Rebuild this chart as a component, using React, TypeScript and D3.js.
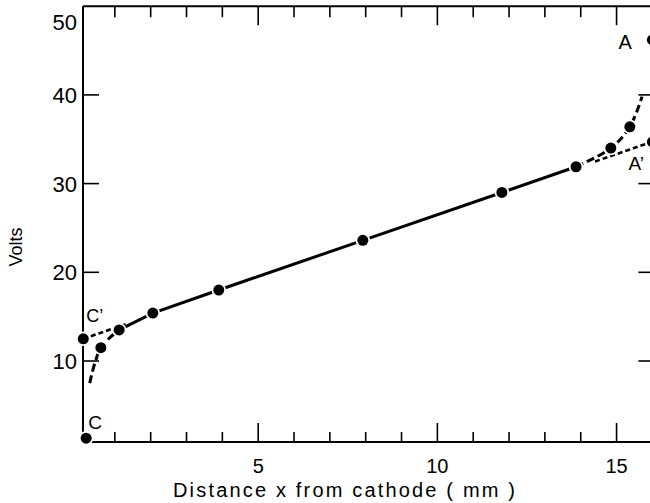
import React from "react";
import * as d3 from "d3";

// Measured potential along the discharge (distance in mm, potential in volts)
const distance = [0.2, 0.61, 1.12, 2.06, 3.9, 7.92, 11.8, 13.87, 14.84, 15.37];
const volts = [1.3, 11.5, 13.5, 15.4, 18.0, 23.6, 29.0, 31.9, 34.0, 36.4];

// Extrapolated end points C' and A', and the anode point A
const extraX = [0.12, 16.0, 16.0];
const extraV = [12.5, 34.7, 46.2];

// Solid run through the linear region
const solidX = [1.12, 2.06, 3.9, 7.92, 11.8, 13.87];
const solidV = [13.5, 15.4, 18.0, 23.6, 29.0, 31.9];

// Dashed curves bending away near the electrodes
const cathodeCurveX = [0.3, 0.61, 1.12];
const cathodeCurveV = [7.5, 11.5, 13.5];
const anodeCurveX = [13.87, 14.84, 15.37, 15.71];
const anodeCurveV = [31.9, 34.0, 36.4, 39.8];

// Straight extrapolation C'–A'
const fitIntercept = 12.33;
const fitSlope = 1.4;
const fitLeft = [0.12, 1.3];
const fitRight = [14.4, 16.0];

const xMajor = [5, 10, 15];
const xMinor = [1, 2, 3, 4, 6, 7, 8, 9, 11, 12, 13, 14];
const yMajor = [10, 20, 30, 40];
const yLabels = [10, 20, 30, 40, 50];

const pointLabels = [
  { text: "C", x: 0.2, v: 1.3, dx: 2, dy: -9, size: 19 },
  { text: "C\u2019", x: 0.12, v: 12.5, dx: 3, dy: -17, size: 18 },
  { text: "A", x: 16.0, v: 46.2, dx: -34, dy: 9, size: 20 },
  { text: "A\u2019", x: 16.0, v: 34.7, dx: -24, dy: 28, size: 19 },
];

const W = 650;
const H = 503;
const FONT = "'Liberation Sans', Arial, sans-serif";

export default function App() {
  const x = d3.scaleLinear().domain([0, 16]).range([79, 652.4]);
  const y = d3.scaleLinear().domain([0, 50]).range([449.7, 6.2]);

  const left = 83;
  const right = x(16);
  const top = y(50);
  const bottom = 442;

  const line = d3
    .line<[number, number]>()
    .x((d) => x(d[0]))
    .y((d) => y(d[1]));
  const curve = d3
    .line<[number, number]>()
    .x((d) => x(d[0]))
    .y((d) => y(d[1]))
    .curve(d3.curveCatmullRom.alpha(0.5));

  const zip = (a: number[], b: number[]) => a.map((v, i) => [v, b[i]] as [number, number]);
  const fitSeg = (r: number[]) => r.map((d) => [d, fitIntercept + fitSlope * d] as [number, number]);

  const dots = [...zip(distance, volts), ...zip(extraX, extraV)];

  return (
    <svg
      width={W}
      height={H}
      style={{ position: "absolute", left: 0, top: 0, background: "#fff" }}
      fontFamily={FONT}
    >
      <rect width={W} height={H} fill="#fff" />

      {/* frame */}
      <g stroke="#000" strokeWidth={2} fill="none">
        <line x1={left} x2={left} y1={top} y2={bottom} />
        <line x1={left} x2={right} y1={bottom} y2={bottom} />
        <line x1={left} x2={right} y1={top} y2={top} />
        <line x1={right} x2={right} y1={top} y2={bottom} />
      </g>

      {/* x ticks, bottom and top; y ticks, left and right */}
      <g stroke="#000" strokeWidth={1.6}>
        {xMajor.map((t) => (
          <g key={"M" + t}>
            <line x1={x(t)} x2={x(t)} y1={bottom} y2={bottom - 19} />
            <line x1={x(t)} x2={x(t)} y1={top} y2={top + 19} />
          </g>
        ))}
        {xMinor.map((t) => (
          <g key={"m" + t}>
            <line x1={x(t)} x2={x(t)} y1={bottom} y2={bottom - 10} />
            <line x1={x(t)} x2={x(t)} y1={top} y2={top + 11} />
          </g>
        ))}
        {yMajor.map((t) => (
          <g key={"y" + t}>
            <line x1={left} x2={left + 16} y1={y(t)} y2={y(t)} />
            <line x1={right} x2={right - 14} y1={y(t)} y2={y(t)} />
          </g>
        ))}
      </g>

      {/* tick labels */}
      <g fontSize={20} textAnchor="middle" fill="#000">
        {xMajor.map((t) => (
          <text key={t} x={x(t)} y={473}>
            {t}
          </text>
        ))}
      </g>
      <g fontSize={22} textAnchor="end" fill="#000">
        {yLabels.map((t) => (
          <text key={t} x={77} y={Math.max(y(t), 22)} dy="0.36em">
            {t}
          </text>
        ))}
      </g>

      {/* axis titles */}
      <text
        x={173}
        y={497}
        fontSize={20}
        textLength={342}
        lengthAdjust="spacing"
        fill="#000"
      >
        Distance x from cathode ( mm )
      </text>
      <text
        transform="translate(22,247) rotate(-90)"
        fontSize={18}
        textAnchor="middle"
        fill="#000"
      >
        Volts
      </text>

      {/* linear extrapolation C'–A' */}
      <g stroke="#000" strokeWidth={2.6} fill="none" strokeDasharray="5 3">
        <path d={line(fitSeg(fitLeft)) || ""} />
        <path d={line(fitSeg(fitRight)) || ""} />
      </g>

      {/* curved parts near the electrodes */}
      <g stroke="#000" strokeWidth={3} fill="none" strokeDasharray="8 4">
        <path d={curve(zip(cathodeCurveX, cathodeCurveV)) || ""} />
        <path d={curve(zip(anodeCurveX, anodeCurveV)) || ""} />
      </g>

      {/* linear region */}
      <path d={line(zip(solidX, solidV)) || ""} stroke="#000" strokeWidth={3} fill="none" />

      {/* measured points */}
      <g fill="#000" stroke="#fff" strokeWidth={3.5}>
        {dots.map((d, i) => (
          <circle key={i} cx={x(d[0])} cy={y(d[1])} r={5.5} paintOrder="stroke" />
        ))}
      </g>

      {/* point labels */}
      <g fill="#000">
        {pointLabels.map((p) => (
          <text key={p.text} x={x(p.x) + p.dx} y={y(p.v) + p.dy} fontSize={p.size}>
            {p.text}
          </text>
        ))}
      </g>
    </svg>
  );
}
